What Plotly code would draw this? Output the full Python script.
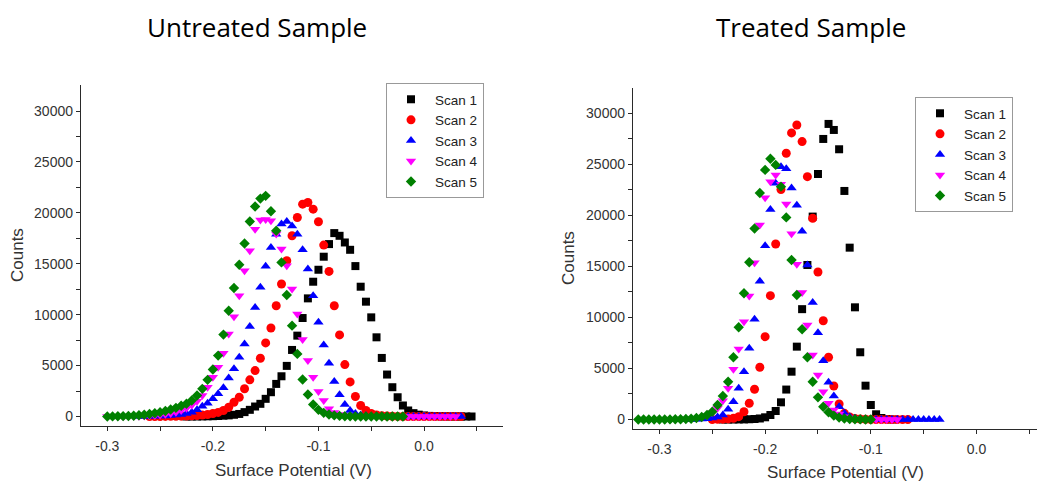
import plotly.graph_objects as go

# ---------------- data ----------------
# Untreated sample: (surface potential V, counts)
untreated_scan1 = [(-0.225,0),(-0.22,0),(-0.215,5),(-0.21,10),(-0.205,20),(-0.2,30),(-0.195,50),(-0.19,80),
    (-0.185,110),(-0.18,170),(-0.175,250),(-0.17,430),(-0.165,655),(-0.16,980),(-0.155,1245),(-0.15,1735),
    (-0.145,2385),(-0.14,3200),(-0.135,3950),(-0.13,4970),(-0.125,6535),(-0.12,7940),(-0.115,9670),
    (-0.11,11600),(-0.105,13235),(-0.1,14410),(-0.095,15690),(-0.09,16930),(-0.085,18010),(-0.08,17745),
    (-0.075,17090),(-0.07,16370),(-0.065,14770),(-0.06,12745),(-0.055,11275),(-0.05,9735),(-0.045,7775),
    (-0.04,5750),(-0.035,4120),(-0.03,2875),(-0.025,1890),(-0.02,1080),(-0.015,590),(-0.01,330),
    (-0.005,180),(0.0,100),(0.005,60),(0.01,40),(0.015,25),(0.02,15),(0.025,10),(0.03,5),(0.035,0),
    (0.04,0),(0.045,0)]
untreated_scan2 = [(-0.26,0),(-0.255,0),(-0.25,5),(-0.245,10),(-0.24,15),(-0.235,25),(-0.23,35),(-0.225,50),
    (-0.22,70),(-0.215,100),(-0.21,140),(-0.205,200),(-0.2,290),(-0.195,400),(-0.19,590),(-0.185,910),
    (-0.18,1400),(-0.175,1890),(-0.17,2730),(-0.165,3600),(-0.16,4510),(-0.155,5715),(-0.15,7225),
    (-0.145,8695),(-0.14,10880),(-0.135,13010),(-0.13,15290),(-0.125,17745),(-0.12,19540),(-0.115,20850),
    (-0.11,21010),(-0.105,20360),(-0.1,19120),(-0.095,16830),(-0.09,14250),(-0.085,10880),(-0.08,8010),
    (-0.075,5100),(-0.07,3400),(-0.065,1960),(-0.06,1080),(-0.055,590),(-0.05,300),(-0.045,150),
    (-0.04,80),(-0.035,40),(-0.03,20),(-0.025,10),(-0.02,5),(-0.015,0),(-0.01,0),(-0.005,0),(0.0,0),
    (0.005,0),(0.01,0),(0.015,0),(0.02,0),(0.025,0),(0.03,0),(0.035,0)]
untreated_scan3 = [(-0.27,0),(-0.265,5),(-0.26,15),(-0.255,25),(-0.25,40),(-0.245,60),(-0.24,90),(-0.235,140),
    (-0.23,200),(-0.225,300),(-0.22,420),(-0.215,655),(-0.21,1010),(-0.205,1300),(-0.2,1735),(-0.195,2225),
    (-0.19,2815),(-0.185,3790),(-0.18,4680),(-0.175,5820),(-0.17,7130),(-0.165,8850),(-0.16,10715),
    (-0.155,12680),(-0.15,14750),(-0.145,16600),(-0.14,17900),(-0.135,18900),(-0.13,19150),(-0.125,18700),
    (-0.12,17900),(-0.115,16370),(-0.11,14480),(-0.105,11860),(-0.1,9245),(-0.095,7030),(-0.09,5225),
    (-0.085,3430),(-0.08,2125),(-0.075,1175),(-0.07,590),(-0.065,300),(-0.06,150),(-0.055,70),(-0.05,30),
    (-0.045,15),(-0.04,5),(-0.035,0),(-0.03,0),(-0.025,0),(-0.02,0),(-0.015,0),(-0.01,0),(-0.005,0),
    (0.0,0),(0.005,0),(0.01,0),(0.015,0),(0.02,0),(0.025,0),(0.03,0),(0.035,0)]
untreated_scan4 = [(-0.3,0),(-0.295,0),(-0.29,5),(-0.285,10),(-0.28,15),(-0.275,25),(-0.27,35),(-0.265,50),
    (-0.26,70),(-0.255,100),(-0.25,150),(-0.245,210),(-0.24,300),(-0.235,420),(-0.23,580),(-0.225,800),
    (-0.22,1100),(-0.215,1500),(-0.21,2060),(-0.205,2875),(-0.2,3855),(-0.195,4830),(-0.19,6200),
    (-0.185,8100),(-0.18,9800),(-0.175,11860),(-0.17,14310),(-0.165,16270),(-0.16,18400),(-0.155,19290),
    (-0.15,19350),(-0.145,19220),(-0.14,17910),(-0.135,16440),(-0.13,14800),(-0.125,12520),(-0.12,10070),
    (-0.115,7550),(-0.11,5490),(-0.105,3855),(-0.1,2450),(-0.095,1570),(-0.09,755),(-0.085,400),
    (-0.08,200),(-0.075,100),(-0.07,50),(-0.065,25),(-0.06,10),(-0.055,5),(-0.05,0),(-0.045,0),(-0.04,0),
    (-0.035,0),(-0.03,0),(-0.025,0),(-0.02,0),(-0.015,0),(-0.01,0),(-0.005,0),(0.0,0),(0.005,0),
    (0.01,0),(0.015,0),(0.02,0),(0.025,0),(0.03,0)]
untreated_scan5 = [(-0.3,5),(-0.295,10),(-0.29,20),(-0.285,35),(-0.28,55),(-0.275,80),(-0.27,120),(-0.265,170),
    (-0.26,240),(-0.255,320),(-0.25,420),(-0.245,540),(-0.24,680),(-0.235,850),(-0.23,1050),(-0.225,1250),
    (-0.22,1570),(-0.215,2060),(-0.21,2715),(-0.205,3600),(-0.2,4610),(-0.195,5980),(-0.19,8040),
    (-0.185,10390),(-0.18,12620),(-0.175,14900),(-0.17,16990),(-0.165,19150),(-0.16,20620),(-0.155,21400),
    (-0.15,21670),(-0.145,20150),(-0.14,18235),(-0.135,15130),(-0.13,11930),(-0.125,8920),(-0.12,6145),
    (-0.115,3630),(-0.11,2160),(-0.105,1175),(-0.1,655),(-0.095,360),(-0.09,200),(-0.085,110),(-0.08,60),
    (-0.075,30),(-0.07,15),(-0.065,5),(-0.06,0),(-0.055,0),(-0.05,0),(-0.045,0),(-0.04,0),(-0.035,0),
    (-0.03,0),(-0.025,0),(-0.02,0)]

# Treated sample
treated_scan1 = [(-0.24,0),(-0.235,0),(-0.23,0),(-0.225,5),(-0.22,10),(-0.215,25),(-0.21,50),(-0.205,100),
    (-0.2,215),(-0.195,440),(-0.19,830),(-0.185,1680),(-0.18,2930),(-0.175,4680),(-0.17,7130),(-0.165,10800),
    (-0.16,15125),(-0.155,19860),(-0.15,24030),(-0.145,27460),(-0.14,28930),(-0.135,28340),(-0.13,26450),
    (-0.125,22370),(-0.12,16820),(-0.115,10980),(-0.11,6580),(-0.105,3310),(-0.1,1420),(-0.095,510),
    (-0.09,150),(-0.085,40),(-0.08,0)]
treated_scan2 = [(-0.25,5),(-0.245,15),(-0.24,30),(-0.235,60),(-0.23,120),(-0.225,275),(-0.22,760),(-0.215,1590),
    (-0.21,2960),(-0.205,5110),(-0.2,8110),(-0.195,12120),(-0.19,17180),(-0.185,22500),(-0.18,26060),
    (-0.175,28050),(-0.17,28830),(-0.165,27200),(-0.16,23770),(-0.155,19700),(-0.15,14440),(-0.145,9670),
    (-0.14,6090),(-0.135,3280),(-0.13,1520),(-0.125,600),(-0.12,250),(-0.115,100),(-0.11,40),(-0.105,15),
    (-0.1,5),(-0.095,0),(-0.09,0),(-0.085,0),(-0.08,0),(-0.075,0),(-0.07,0),(-0.065,0)]
treated_scan3 = [(-0.28,0),(-0.275,5),(-0.27,10),(-0.265,20),(-0.26,40),(-0.255,80),(-0.25,140),(-0.245,250),
    (-0.24,440),(-0.235,1000),(-0.23,1740),(-0.225,3050),(-0.22,4680),(-0.215,6970),(-0.21,9810),
    (-0.205,13540),(-0.2,17000),(-0.195,20550),(-0.19,23120),(-0.185,24750),(-0.18,24550),(-0.175,22660),
    (-0.17,20960),(-0.165,18420),(-0.16,15125),(-0.155,11440),(-0.15,8500),(-0.145,5760),(-0.14,3640),
    (-0.135,2300),(-0.13,1250),(-0.125,600),(-0.12,280),(-0.115,130),(-0.11,60),(-0.105,30),(-0.1,15),
    (-0.095,5),(-0.09,0),(-0.085,0),(-0.08,0),(-0.075,0),(-0.07,0),(-0.065,0),(-0.06,0),(-0.055,0),
    (-0.05,0),(-0.045,0),(-0.04,0),(-0.035,0)]
treated_scan4 = [(-0.29,0),(-0.285,10),(-0.28,20),(-0.275,40),(-0.27,70),(-0.265,130),(-0.26,230),(-0.255,400),
    (-0.25,650),(-0.245,1100),(-0.24,1840),(-0.235,3050),(-0.23,4910),(-0.225,6900),(-0.22,9570),
    (-0.215,12090),(-0.21,15350),(-0.205,19040),(-0.2,21700),(-0.195,23280),(-0.19,23940),(-0.185,23030),
    (-0.18,21090),(-0.175,18180),(-0.17,15200),(-0.165,12430),(-0.16,9250),(-0.155,6310),(-0.15,4360),
    (-0.145,2720),(-0.14,1590),(-0.135,930),(-0.13,540),(-0.125,280),(-0.12,140),(-0.115,70),(-0.11,35),
    (-0.105,15),(-0.1,5),(-0.095,0),(-0.09,0),(-0.085,0),(-0.08,0),(-0.075,0)]
treated_scan5 = [(-0.32,0),(-0.315,0),(-0.31,0),(-0.305,0),(-0.3,0),(-0.295,5),(-0.29,10),(-0.285,20),
    (-0.28,30),(-0.275,50),(-0.27,80),(-0.265,140),(-0.26,250),(-0.255,440),(-0.25,760),(-0.245,1420),
    (-0.24,2300),(-0.235,3700),(-0.23,6090),(-0.225,9030),(-0.22,12350),(-0.215,15390),(-0.21,18690),
    (-0.205,22170),(-0.2,24430),(-0.195,25520),(-0.19,24920),(-0.185,22790),(-0.18,19780),(-0.175,15610),
    (-0.17,12190),(-0.165,8830),(-0.16,6090),(-0.155,3700),(-0.15,2170),(-0.145,1250),(-0.14,705),
    (-0.135,380),(-0.13,200),(-0.125,100),(-0.12,50),(-0.115,25),(-0.11,10),(-0.105,5),(-0.1,0)]

scan_names = ["Scan 1", "Scan 2", "Scan 3", "Scan 4", "Scan 5"]
x_tick_vals = [-0.3, -0.2, -0.1, 0.0]
x_tick_text = ["-0.3", "-0.2", "-0.1", "0.0"]
y_tick_vals = [0, 5000, 10000, 15000, 20000, 25000, 30000]
y_tick_text = ["0", "5000", "10000", "15000", "20000", "25000", "30000"]
titles = ["Untreated Sample", "Treated Sample"]

# ---------------- styles ----------------
colors = ["#000000", "#ff0000", "#0000ff", "#ff00ff", "#008000"]
symbols = ["square", "circle", "triangle-up", "triangle-down", "diamond"]
sizes = [8, 9, 9, 9, 8]

# the page body has an 8px margin, so the figure starts at (8, 8) in the window
OFF = 8
W, H = 1045 - OFF, 483 - OFF
def px_x(p): return (p - OFF) / W
def px_y(p): return (H - (p - OFF)) / H

fig = go.Figure()
groups = [
    ([untreated_scan1, untreated_scan2, untreated_scan3, untreated_scan4, untreated_scan5], "x", "y", "legend"),
    ([treated_scan1, treated_scan2, treated_scan3, treated_scan4, treated_scan5], "x2", "y2", "legend2"),
]
for scans, xa, ya, lg in groups:
    for i, sc in enumerate(scans):
        fig.add_trace(go.Scatter(
            x=[p[0] for p in sc], y=[p[1] for p in sc], mode="markers", name=scan_names[i],
            xaxis=xa, yaxis=ya, legend=lg,
            marker=dict(symbol=symbols[i], color=colors[i], size=sizes[i], line=dict(width=0)),
        ))

axis_col = "#2a2a2a"
tick_font = dict(family="Liberation Sans, Arial, sans-serif", size=14, color="#333333")
common_x = dict(showline=True, linecolor=axis_col, linewidth=1.4, ticks="outside", ticklen=4,
                tickcolor=axis_col, tickwidth=1.3, showgrid=False, zeroline=False,
                tickvals=x_tick_vals, ticktext=x_tick_text, tickfont=tick_font, ticklabelstandoff=3,
                minor=dict(ticks="outside", ticklen=4, tickcolor=axis_col, tickwidth=1.3,
                           tickvals=[-0.25, -0.15, -0.05, 0.05], showgrid=False))
common_y = dict(showline=True, linecolor=axis_col, linewidth=1.4, ticks="outside", ticklen=4,
                tickcolor=axis_col, tickwidth=1.3, showgrid=False, zeroline=False,
                tickvals=y_tick_vals, ticktext=y_tick_text, tickfont=tick_font,
                minor=dict(ticks="outside", ticklen=4, tickcolor=axis_col, tickwidth=1.3,
                           tickvals=[2500, 7500, 12500, 17500, 22500, 27500], showgrid=False))

legend_font = dict(family="Liberation Sans, Arial, sans-serif", size=13.5, color="#222222")
fig.update_layout(
    width=W, height=H, margin=dict(l=0, r=0, t=0, b=0),
    paper_bgcolor="white", plot_bgcolor="white", showlegend=True,
    xaxis=dict(domain=[px_x(81), px_x(503)], range=[-0.3249, 0.0748], anchor="y", **common_x),
    yaxis=dict(domain=[px_y(426), px_y(85)], range=[-933, 32553], anchor="x", **common_y),
    xaxis2=dict(domain=[px_x(633), 1.0], range=[-0.325, 0.0648], anchor="y2", **common_x),
    yaxis2=dict(domain=[px_y(429), px_y(88)], range=[-930, 32447], anchor="x2", **common_y),
    legend=dict(x=px_x(386), y=px_y(83), xanchor="left", yanchor="top", bgcolor="white",
                bordercolor="#999999", borderwidth=1, itemwidth=38, font=legend_font),
    legend2=dict(x=px_x(915), y=px_y(97), xanchor="left", yanchor="top", bgcolor="white",
                 bordercolor="#999999", borderwidth=1, itemwidth=38, font=legend_font),
)

title_font = dict(family="Open Sans, sans-serif", size=26, color="#000000")
label_font = dict(family="Liberation Sans, Arial, sans-serif", size=17, color="#333333")
annos = [
    dict(text=titles[0], x=px_x(257), y=px_y(27), font=title_font),
    dict(text=titles[1], x=px_x(811), y=px_y(27), font=title_font),
    dict(text="Surface Potential (V)", x=px_x(293), y=px_y(470), font=label_font),
    dict(text="Surface Potential (V)", x=px_x(845), y=px_y(472), font=label_font),
    dict(text="Counts", x=px_x(17), y=px_y(255), font=label_font, textangle=-90),
    dict(text="Counts", x=px_x(568), y=px_y(258), font=label_font, textangle=-90),
]
for a in annos:
    fig.add_annotation(xref="paper", yref="paper", xanchor="center", yanchor="middle",
                       showarrow=False, **a)

fig.write_html("out.html")
